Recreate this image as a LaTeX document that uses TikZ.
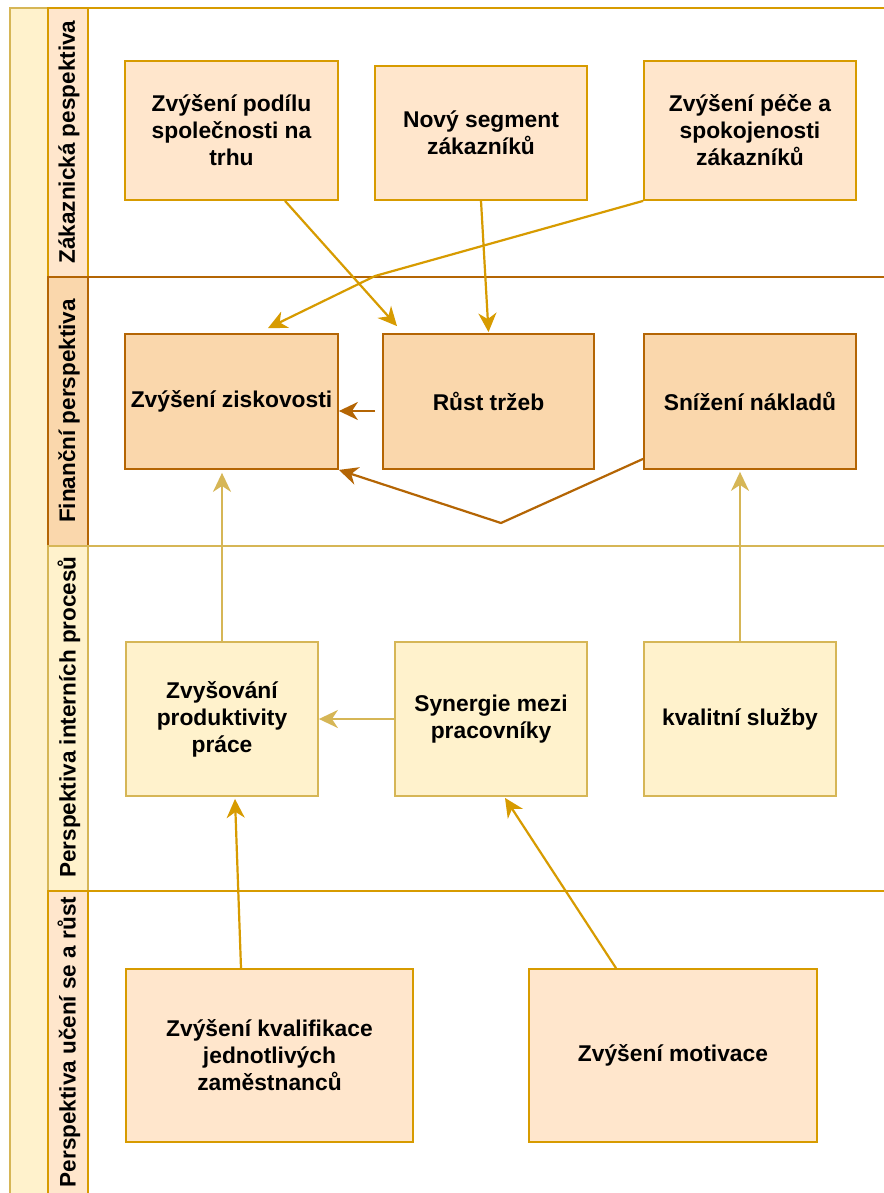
\documentclass[tikz,border=0pt]{standalone}
\usepackage{fontspec}
\setmainfont{Liberation Sans}
\usetikzlibrary{arrows.meta}
\definecolor{orF}{HTML}{FFE6CC}
\definecolor{orS}{HTML}{D79B00}
\definecolor{brF}{HTML}{FAD7AC}
\definecolor{brS}{HTML}{B46504}
\definecolor{yeF}{HTML}{FFF2CC}
\definecolor{yeS}{HTML}{D6B656}
\tikzset{
  box/.style={draw, line width=1.8pt, inner sep=0pt, align=center,
    font=\fontsize{22.8}{27}\selectfont\bfseries},
  obox/.style={box, fill=orF, draw=orS},
  bbox/.style={box, fill=brF, draw=brS},
  ybox/.style={box, fill=yeF, draw=yeS},
  lanetxt/.style={rotate=90, inner sep=0pt, font=\fontsize{22.5}{27}\selectfont\bfseries},
  arr/.style={line width=2.2pt, -{Stealth[length=19pt,width=18pt,inset=6pt]}},
  arrO/.style={arr, draw=orS},
  arrB/.style={arr, draw=brS},
  arrY/.style={arr, draw=yeS},
}
\begin{document}
\begin{tikzpicture}[x=1pt,y=-1pt]
\useasboundingbox (0,0) rectangle (883,1193);
\fill[white] (0,0) rectangle (883,1193);
% pool strip
\draw[line width=1.8pt, draw=yeS, fill=yeF] (10,8) rectangle (48,1215);
% lanes
\draw[line width=1.8pt, draw=orS] (48,8) rectangle (900,277);
\draw[line width=1.8pt, draw=orS, fill=orF] (48,8) rectangle (88,277);
\draw[line width=1.8pt, draw=brS] (48,277) rectangle (900,546);
\draw[line width=1.8pt, draw=brS, fill=brF] (48,277) rectangle (88,546);
\draw[line width=1.8pt, draw=yeS] (48,546) rectangle (900,891);
\draw[line width=1.8pt, draw=yeS, fill=yeF] (48,546) rectangle (88,891);
\draw[line width=1.8pt, draw=orS] (48,891) rectangle (900,1215);
\draw[line width=1.8pt, draw=orS, fill=orF] (48,891) rectangle (88,1215);
\node[lanetxt] (l1) at (69,142) {Zákaznická pespektiva};
\node[lanetxt] (l2) at (69,411) {Finanční perspektiva};
\node[lanetxt] (l3) at (69,717) {Perspektiva interních procesů};
\node[lanetxt] (l4) at (69,1042) {Perspektiva učení se a růst};
% boxes
\node[obox, minimum width=213, minimum height=139] (b1) at (231.5,130.5) {Zvýšení podílu\\společnosti na\\trhu};
\node[obox, minimum width=212, minimum height=134] (b2) at (481,133) {Nový segment\\zákazníků};
\node[obox, minimum width=212, minimum height=139] (b3) at (750,130.5) {Zvýšení péče a\\spokojenosti\\zákazníků};
\node[bbox, minimum width=213, minimum height=135] (b4) at (231.5,401.5) {Zvýšení ziskovosti};
\node[bbox, minimum width=211, minimum height=135] (b5) at (488.5,401.5) {Růst tržeb};
\node[bbox, minimum width=212, minimum height=135] (b6) at (750,401.5) {Snížení nákladů};
\node[ybox, minimum width=192, minimum height=154] (b7) at (222,719) {Zvyšování\\produktivity\\práce};
\node[ybox, minimum width=192, minimum height=154] (b8) at (491,719) {Synergie mezi\\pracovníky};
\node[ybox, minimum width=192, minimum height=154] (b9) at (740,719) {kvalitní služby};
\node[obox, minimum width=287, minimum height=173] (b10) at (269.5,1055.5) {Zvýšení kvalifikace\\jednotlivých\\zaměstnanců};
\node[obox, minimum width=288, minimum height=173] (b11) at (673,1055.5) {Zvýšení motivace};
% waypoints
\coordinate (w1) at (375,276);
\coordinate (w2) at (501,523);
% connectors
\draw[arrO] ([xshift=53.5]b1.south) -- ([xshift=-91.5,yshift=7]b5.north);
\draw[arrO] (b2.south) -- ([yshift=1]b5.north);
\draw[arrO] (b3.south west) -- (w1) -- ([xshift=36.5,yshift=5]b4.north);
\draw[arrB] ([xshift=-7,yshift=-9.5]b5.west) -- ([yshift=-9.5]b4.east);
\draw[arrB] ([yshift=11]b6.south west) -- (w2) -- (b4.south east);
\draw[arrY] (b7.north) -- ([yshift=-3]b7.north |- b4.south);
\draw[arrY] (b9.north) -- ([yshift=-2]b9.north |- b6.south);
\draw[arrY] (b8.west) -- (b7.east);
\draw[arrO] ([xshift=-28.5]b10.north) -- ([xshift=13,yshift=-2]b7.south);
\draw[arrO] ([xshift=-57]b11.north) -- ([xshift=14,yshift=-1]b8.south);
\end{tikzpicture}
\end{document}
